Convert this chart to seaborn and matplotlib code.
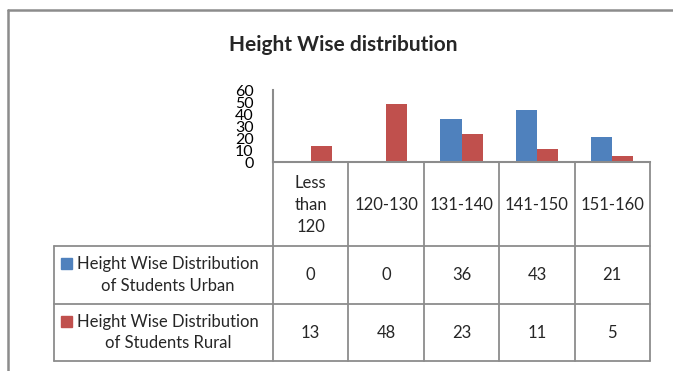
import numpy as np
import pandas as pd
import matplotlib
matplotlib.use("Agg")
import matplotlib.pyplot as plt
import seaborn as sns
from matplotlib.lines import Line2D
from matplotlib.patches import Rectangle

# ---- data ----
categories = ["Less\nthan\n120", "120-130", "131-140", "141-150", "151-160"]
urban = [0, 0, 36, 43, 21]
rural = [13, 48, 23, 11, 5]
series_names = ["Height Wise Distribution\nof Students Urban",
                "Height Wise Distribution\nof Students Rural"]
yticks = [0, 10, 20, 30, 40, 50, 60]
title = "Height Wise distribution"

colors = ["#4F81BD", "#C0504D"]
line_col = "#8c8c8c"

sns.set_theme(style="white")
plt.rcParams['font.family'] = ['Lato', 'DejaVu Sans']

W, H = 673, 371
fig = plt.figure(figsize=(W / 100, H / 100), dpi=100)
fig.patch.set_facecolor("white")

def fx(px):
    return px / W

def fy(py):
    return 1 - py / H

ax_left, ax_right, ax_top, ax_bot = 273, 650, 90, 162
ax = fig.add_axes([fx(ax_left), fy(ax_bot), (ax_right - ax_left) / W, (ax_bot - ax_top) / H])

df = pd.DataFrame({
    "cat": categories * 2,
    "value": urban + rural,
    "series": [series_names[0]] * len(categories) + [series_names[1]] * len(categories),
})
sns.barplot(data=df, x="cat", y="value", hue="series", order=categories,
            hue_order=series_names, palette=colors, width=0.56, saturation=1,
            ax=ax, legend=False, errorbar=None)
for p in ax.patches:
    p.set_edgecolor("none")

ax.set_xlim(-0.5, len(categories) - 0.5)
ax.set_ylim(0, 60)
ax.set_yticks(yticks)
ax.set_yticklabels([str(t) for t in yticks], fontsize=11.5, color="black")
ax.set_xticks([])
ax.set_xlabel("")
ax.set_ylabel("")
ax.tick_params(axis="y", length=0, pad=14)
for s in ["top", "right"]:
    ax.spines[s].set_visible(False)
for s in ["left", "bottom"]:
    ax.spines[s].set_color(line_col)
    ax.spines[s].set_linewidth(1.5)
ax.set_facecolor("none")

fig.text(fx(343), fy(45), title, ha="center", va="center", fontsize=15, fontweight="bold")

# ---- overlay for frame and data table ----
oax = fig.add_axes([0, 0, 1, 1], zorder=-1)
oax.set_xlim(0, W)
oax.set_ylim(H, 0)
oax.axis("off")

# outer chart frame (clipped on the right/bottom)
oax.add_line(Line2D([8, 8], [10, H + 5], color=line_col, lw=1.8))
oax.add_line(Line2D([8, W + 5], [10, 10], color=line_col, lw=1.8))

ncat = len(categories)
col_w = (ax_right - ax_left) / ncat
col_edges = [ax_left + i * col_w for i in range(ncat + 1)]
row_edges = [ax_bot, 246, 304, 361]
lab_left = 54

tl = 1.3
for xe in col_edges:
    oax.add_line(Line2D([xe, xe], [row_edges[0], row_edges[-1]], color=line_col, lw=tl))
oax.add_line(Line2D([lab_left, lab_left], [row_edges[1], row_edges[-1]], color=line_col, lw=tl))
for ye in row_edges[1:]:
    oax.add_line(Line2D([lab_left, ax_right], [ye, ye], color=line_col, lw=tl))

fs = 12
for i, c in enumerate(categories):
    cx = col_edges[i] + col_w / 2
    oax.text(cx, (row_edges[0] + row_edges[1]) / 2 + 1, c, ha="center", va="center",
             fontsize=fs, linespacing=1.45)

for r, (vals, name, col) in enumerate(zip([urban, rural], series_names, colors)):
    y0, y1 = row_edges[r + 1], row_edges[r + 2]
    cy = (y0 + y1) / 2
    oax.text(168, cy, name, ha="center", va="center", fontsize=fs, linespacing=1.4)
    oax.add_patch(Rectangle((61, y0 + 12), 10.5, 10.5, color=col))
    for i, v in enumerate(vals):
        oax.text(col_edges[i] + col_w / 2, cy, str(v), ha="center", va="center", fontsize=fs)

fig.savefig("out.png", dpi=100, facecolor="white")
